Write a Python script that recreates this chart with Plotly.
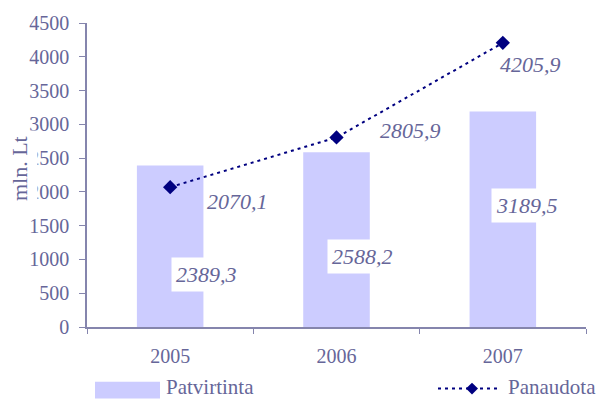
import plotly.graph_objects as go

years = ["2005", "2006", "2007"]
patvirtinta = [2389.3, 2588.2, 3189.5]
panaudota = [2070.1, 2805.9, 4205.9]
y_ticks = [0, 500, 1000, 1500, 2000, 2500, 3000, 3500, 4000, 4500]
series_names = ["Patvirtinta", "Panaudota"]
y_title = "mln. Lt"

# style
BAR_COLOR = "#ccccff"
LINE_COLOR = "#000080"
TEXT_COLOR = "#666699"
AXIS_COLOR = "#8585ad"
SERIF = "Liberation Serif, Times New Roman, serif"

# label offsets (px) relative to data point
bar_label_shift = [(36, -109), (26, -104), (24, -94)]
line_label_shift = [(67, -14), (74, 7), (28, -22)]

L, R, T, B = 87, 15, 21, 72
W, H = 601, 399
PW, PH = W - L - R, H - T - B


def fmt(v):
    return f"{v:.1f}".replace(".", ",")


def px_x(px):
    return (px - L) / PW


def px_y(py):
    return (H - B - py) / PH


fig = go.Figure()
fig.add_trace(go.Bar(x=years, y=patvirtinta, name=series_names[0], width=0.4,
                     marker=dict(color=BAR_COLOR, line=dict(width=0)), showlegend=False))
fig.add_trace(go.Scatter(x=years, y=panaudota, name=series_names[1], mode="lines+markers",
                         line=dict(color=LINE_COLOR, width=2, dash="3px,4px"),
                         marker=dict(symbol="diamond", size=11, color=LINE_COLOR),
                         showlegend=False))

annotations = []
for i, (v, (dx, dy)) in enumerate(zip(patvirtinta, bar_label_shift)):
    annotations.append(dict(x=i, y=v, xref="x", yref="y", text=fmt(v), showarrow=False,
                            xshift=dx, yshift=dy, bgcolor="white", borderpad=4,
                            font=dict(family=SERIF, size=22, color=TEXT_COLOR, style="italic")))
for i, (v, (dx, dy)) in enumerate(zip(panaudota, line_label_shift)):
    annotations.append(dict(x=i, y=v, xref="x", yref="y", text=fmt(v), showarrow=False,
                            xshift=dx, yshift=dy,
                            font=dict(family=SERIF, size=22, color=TEXT_COLOR, style="italic")))

# y-axis title with white box
annotations.append(dict(x=px_x(19), y=px_y(168), xref="paper", yref="paper", text=y_title,
                        textangle=-90, showarrow=False, bgcolor="white", borderpad=5,
                        xanchor="center", yanchor="middle",
                        font=dict(family=SERIF, size=22, color=TEXT_COLOR)))

# manual legend
shapes = []
shapes.append(dict(type="rect", xref="paper", yref="paper", x0=px_x(95), x1=px_x(160),
                   y0=px_y(399), y1=px_y(382), fillcolor=BAR_COLOR, line=dict(width=0)))
annotations.append(dict(x=px_x(164), y=px_y(387), xref="paper", yref="paper", text=series_names[0],
                        showarrow=False, xanchor="left", yanchor="middle",
                        font=dict(family=SERIF, size=21, color=TEXT_COLOR)))
ly = px_y(389)
shapes.append(dict(type="line", xref="paper", yref="paper", x0=px_x(438), x1=px_x(500),
                   y0=ly, y1=ly, line=dict(color=LINE_COLOR, width=2, dash="3px,4px")))
cx = px_x(472)
dw, dh = 6 / PW, 6 / PH
shapes.append(dict(type="path", xref="paper", yref="paper",
                   path=f"M {cx},{ly + dh} L {cx + dw},{ly} L {cx},{ly - dh} L {cx - dw},{ly} Z",
                   fillcolor=LINE_COLOR, line=dict(width=0)))
annotations.append(dict(x=px_x(506), y=px_y(387), xref="paper", yref="paper", text=series_names[1],
                        showarrow=False, xanchor="left", yanchor="middle",
                        font=dict(family=SERIF, size=21, color=TEXT_COLOR)))

fig.update_layout(
    width=W, height=H,
    margin=dict(l=L, r=R, t=T, b=B),
    paper_bgcolor="white", plot_bgcolor="white",
    showlegend=False,
    annotations=annotations,
    shapes=shapes,
    font=dict(family=SERIF, color=TEXT_COLOR),
)
fig.update_xaxes(type="category", range=[-0.5, 2.5], tickson="boundaries", ticks="outside",
                 ticklen=5, tickcolor=AXIS_COLOR, showline=True, linecolor=AXIS_COLOR,
                 linewidth=1.5, showgrid=False, zeroline=False, ticklabelstandoff=10,
                 tickfont=dict(family=SERIF, size=20, color=TEXT_COLOR))
fig.update_yaxes(range=[0, 4500], tickvals=y_ticks, ticks="outside", ticklen=6,
                 tickcolor=AXIS_COLOR, showline=True, linecolor=AXIS_COLOR, linewidth=1.5,
                 showgrid=False, zeroline=False, ticklabelstandoff=6,
                 tickfont=dict(family=SERIF, size=20, color=TEXT_COLOR))

fig.write_html("out.html")
